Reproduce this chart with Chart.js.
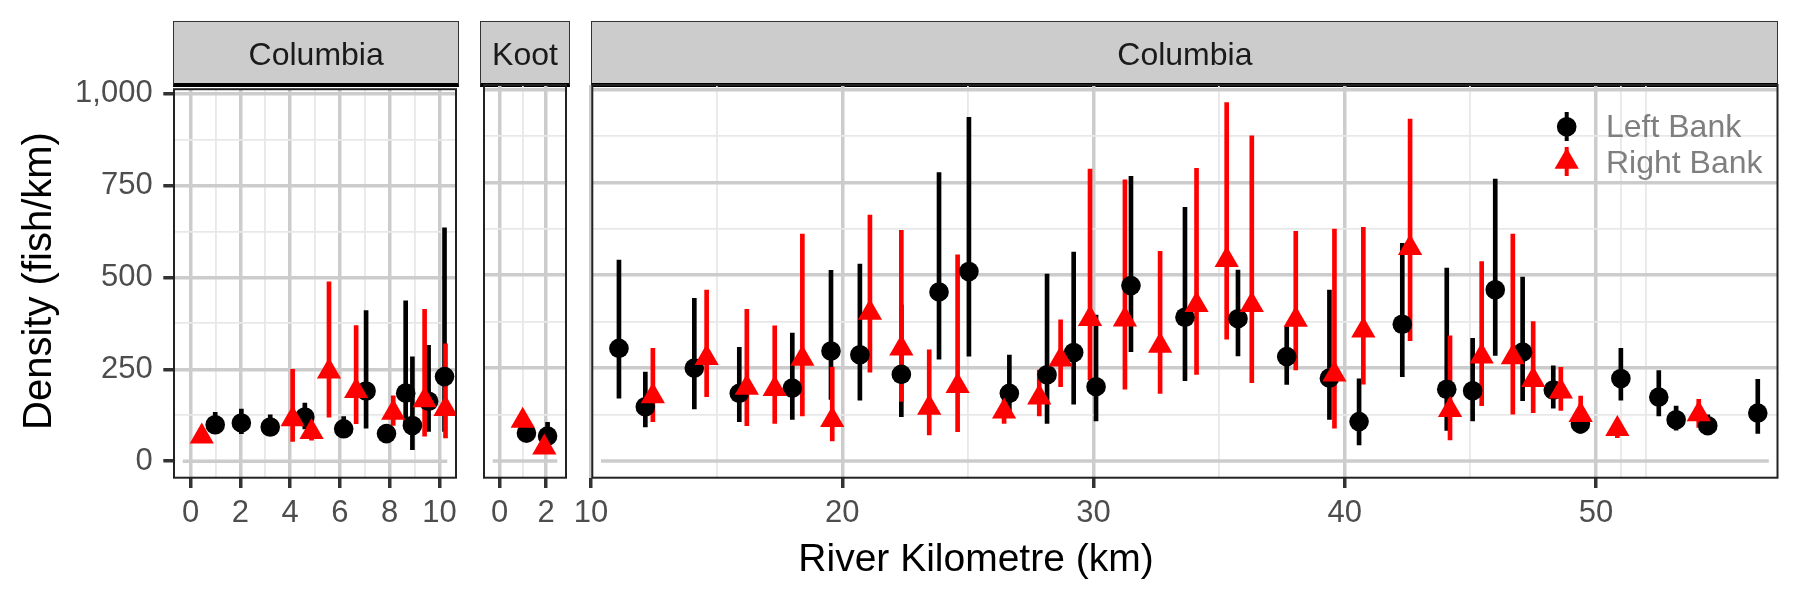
<!DOCTYPE html>
<html>
<head>
<meta charset="utf-8">
<script src="https://cdn.jsdelivr.net/npm/chart.js@4.4.1/dist/chart.umd.min.js"></script>
<style>
  body { margin: 0; background: #fff; }
  #wrap { position: relative; width: 1800px; height: 600px; overflow: hidden; background: #fff;
          font-family: 'Liberation Sans', Arial, Helvetica, sans-serif; }
  canvas { position: absolute; }
  .strip { position: absolute; box-sizing: border-box; background: #cccccc;
           border: 1.5px solid #333; border-bottom: 4px solid #000; top: 21px; height: 66px; }
  .stxt { position: absolute; text-align: center; font-size: 32px; line-height: 32px; color: #1a1a1a;
          white-space: nowrap; top: 38px; }
  .leg { position: absolute; left: 1606px; font-size: 32px; line-height: 32px; color: #7f7f7f; white-space: nowrap; }
  #ytitle { position: absolute; width: 420px; left: -173px; top: 261px; height: 40px; font-size: 40px; line-height: 40px;
            text-align: center; transform: rotate(-90deg); white-space: nowrap; color: #000; }
  #xtitle { position: absolute; width: 600px; left: 676px; top: 537.6px; font-size: 39px; line-height: 39px;
            text-align: center; white-space: nowrap; color: #000; }
</style>
</head>
<body>
<div id="wrap">
  <div class="strip" style="left:173px;width:286.3px;"></div>
  <div class="strip" style="left:479.7px;width:90.6px;"></div>
  <div class="strip" style="left:591.3px;width:1187.2px;"></div>
  <canvas id="cA" width="470" height="500" style="left:0px;top:60px;"></canvas>
  <canvas id="cB" width="110" height="500" style="left:470px;top:60px;"></canvas>
  <canvas id="cC" width="1233" height="500" style="left:567px;top:60px;"></canvas>
  <div class="stxt" style="left:174px;width:284.3px;">Columbia</div>
  <div class="stxt" style="left:480.7px;width:88.6px;">Koot</div>
  <div class="stxt" style="left:592.3px;width:1185.2px;">Columbia</div>
  <div class="leg" style="top:110.2px;">Left Bank</div>
  <div class="leg" style="top:145.6px;">Right Bank</div>
  <div id="ytitle">Density (fish/km)</div>
  <div id="xtitle">River Kilometre (km)</div>
</div>
<script>
// ---------------- DATA ----------------
// Columbia (upper facet, km 0-10)
const colUpLeftKm   = [0.99, 2.04, 3.20, 4.59, 6.15, 7.05, 7.87, 8.64, 8.91, 9.56, 10.20];
const colUpLeftDens = [99, 104, 93, 120, 88, 191, 75, 185, 97, 163, 230];
const colUpLeftLo   = [75, 75, 70, 88, 66, 90, 55, 100, 31, 81, 81];
const colUpLeftHi   = [133, 142, 126, 158, 121, 410, 100, 436, 284, 315, 635];
const colUpRightKm   = [0.45, 4.10, 4.86, 5.56, 6.65, 8.14, 9.40, 10.24];
const colUpRightDens = [67, 114, 79, 244, 191, 132, 166, 142];
const colUpRightLo   = [58, 54, 57, 120, 102, 97, 68, 63];
const colUpRightHi   = [78, 250, 105, 488, 369, 178, 413, 319];

// Kootenay
const kootLeftKm   = [1.15, 2.06];
const kootLeftDens = [75, 67];
const kootLeftLo   = [62, 48];
const kootLeftHi   = [90, 104];
const kootRightKm   = [0.99, 1.92];
const kootRightDens = [108, 36];
const kootRightLo   = [100, 30];
const kootRightHi   = [116, 42];

// Columbia (lower facet, km 10-57)
const colLowLeftKm   = [11.11, 12.16, 14.11, 15.90, 18.01, 19.55, 20.70, 22.35, 23.85, 25.04, 26.65, 28.15, 29.21, 30.10, 31.49, 33.64, 35.75, 37.69, 39.39, 40.57, 42.29, 44.06, 45.09, 45.99, 47.08, 48.30, 49.38, 50.99, 52.50, 53.19, 54.45, 56.44];
const colLowLeftDens = [303, 146, 250, 182, 196, 296, 286, 233, 455, 510, 182, 232, 292, 200, 472, 387, 383, 281, 223, 106, 368, 193, 189, 461, 293, 191, 100, 222, 172, 111, 95, 129];
const colLowLeftLo   = [169, 92, 140, 106, 112, 166, 164, 119, 274, 282, 128, 101, 153, 108, 294, 216, 283, 206, 112, 43, 227, 82, 108, 284, 162, 142, 75, 164, 121, 83, 75, 74];
const colLowLeftHi   = [541, 239, 438, 306, 344, 513, 530, 420, 776, 925, 285, 503, 562, 393, 766, 683, 514, 362, 460, 221, 586, 519, 330, 759, 495, 256, 128, 303, 243, 148, 124, 220];
const colLowRightKm   = [12.46, 14.60, 16.20, 17.31, 18.41, 19.60, 21.10, 22.35, 23.46, 24.59, 26.44, 27.84, 28.69, 29.86, 31.25, 32.65, 34.10, 35.30, 36.30, 38.05, 39.59, 40.74, 42.60, 44.19, 45.45, 46.69, 47.50, 48.60, 49.39, 50.85, 54.09];
const colLowRightDens = [174, 277, 197, 194, 275, 110, 399, 303, 143, 202, 133, 171, 273, 382, 381, 310, 420, 541, 420, 380, 233, 351, 573, 137, 281, 279, 218, 187, 124, 86, 126];
const colLowRightLo   = [106, 173, 95, 101, 121, 54, 239, 160, 70, 79, 101, 121, 200, 218, 193, 182, 233, 328, 211, 245, 88, 207, 324, 57, 149, 126, 130, 136, 106, 63, 90];
const colLowRightHi   = [303, 460, 408, 364, 611, 252, 662, 621, 299, 555, 164, 245, 380, 786, 757, 564, 788, 965, 875, 618, 624, 629, 920, 337, 537, 611, 375, 252, 175, 101, 166];

// Ticks
const yTickValues  = [0, 125, 250, 375, 500, 625, 750, 875, 1000];
const yMajorValues = [0, 250, 500, 750, 1000];
const xTicksUp   = [0, 1, 2, 3, 4, 5, 6, 7, 8, 9, 10];
const xMajorUp   = [0, 2, 4, 6, 8, 10];
const xTicksKoot = [0, 1, 2];
const xMajorKoot = [0, 2];
const xTicksLow  = [10, 15, 20, 25, 30, 35, 40, 45, 50, 51, 52];
const xMajorLow  = [10, 20, 30, 40, 50];

// ---------------- CHARTS ----------------
Chart.defaults.font.family = "'Liberation Sans', Arial, Helvetica, sans-serif";

const MAJOR_C = '#cccccc', MINOR_C = '#e8e8e8';

const panelDeco = {
  id: 'panelDeco',
  beforeDatasetsDraw(chart) {
    const { ctx, chartArea: a, scales } = chart;
    const py = scales.y.getPixelForValue(0);
    ctx.save();
    ctx.strokeStyle = MAJOR_C; ctx.lineWidth = 3.5;
    ctx.beginPath(); ctx.moveTo(a.left + 8.7, py); ctx.lineTo(a.right - 8.7, py); ctx.stroke();
    ctx.restore();
  },
  afterDraw(chart) {
    const { ctx, chartArea: a } = chart;
    ctx.save();
    ctx.strokeStyle = '#222'; ctx.lineWidth = 2;
    ctx.strokeRect(a.left, a.top, a.right - a.left, a.bottom - a.top);
    ctx.restore();
  }
};

const legendDeco = {
  id: 'legendDeco',
  afterDraw(chart) {
    const { ctx, chartArea: a } = chart;
    const gx = a.right - 210.8;
    ctx.save();
    ctx.fillStyle = '#000000';
    ctx.fillRect(gx - 2, a.top + 27, 4, 29);
    Chart.helpers.drawPoint(ctx, { pointStyle: 'circle', radius: 9.8, borderWidth: 0, rotation: 0 }, gx, a.top + 41.7);
    ctx.fillStyle = '#ff0000';
    ctx.fillRect(gx - 2, a.top + 62, 4, 29);
    Chart.helpers.drawPoint(ctx, { pointStyle: 'triangle', radius: 14, borderWidth: 0, rotation: 0 }, gx, a.top + 76.7);
    ctx.restore();
  }
};

function makePanel(id, cfg) {
  const L = cfg.left, R = cfg.right;
  const datasets = [
    { type: 'bar', label: 'Left Bank', order: 4, grouped: false, barThickness: 4, borderWidth: 0,
      backgroundColor: '#000000',
      data: L.km.map((k, i) => ({ x: k, y: [L.lo[i], L.hi[i]] })) },
    { type: 'bar', label: 'Right Bank', order: 3, grouped: false, barThickness: 4, borderWidth: 0,
      backgroundColor: '#ff0000',
      data: R.km.map((k, i) => ({ x: k, y: [R.lo[i], R.hi[i]] })) },
    { type: 'scatter', label: 'Left Bank', order: 2, pointStyle: 'circle', pointRadius: 9.8,
      pointBorderWidth: 0, backgroundColor: '#000000', borderColor: '#000000',
      data: L.km.map((k, i) => ({ x: k, y: L.dens[i] })) },
    { type: 'scatter', label: 'Right Bank', order: 1, pointStyle: 'triangle', pointRadius: 14,
      pointBorderWidth: 0, backgroundColor: '#ff0000', borderColor: '#ff0000',
      data: R.km.map((k, i) => ({ x: k, y: R.dens[i] })) }
  ];
  return new Chart(document.getElementById(id), {
    type: 'scatter',
    data: { datasets },
    options: {
      responsive: false, devicePixelRatio: 1, animation: false, events: [],
      layout: { padding: cfg.pad },
      plugins: { legend: { display: false }, tooltip: { enabled: false } },
      scales: {
        x: {
          type: 'linear', min: cfg.xMin, max: cfg.xMax, bounds: 'data', offset: false,
          afterBuildTicks: s => { s.ticks = cfg.xTicks.map(v => ({ value: v })); },
          afterFit: s => { s.height = 82.3; },
          border: { display: false },
          ticks: { autoSkip: false, maxRotation: 0, minRotation: 0, padding: 6.5, color: '#4d4d4d',
                   font: { size: 31 }, callback: v => cfg.xMajor.includes(v) ? String(v) : '' },
          grid: {
            offset: false, drawTicks: true, tickLength: 10.3, tickWidth: 3.5,
            color: c => (c.tick && cfg.xMajor.includes(c.tick.value)) ? MAJOR_C : MINOR_C,
            lineWidth: c => (c.tick && cfg.xMajor.includes(c.tick.value)) ? 3.5 : 1.8,
            tickColor: c => (c.tick && cfg.xMajor.includes(c.tick.value)) ? '#333333' : 'rgba(0,0,0,0)'
          }
        },
        y: {
          type: 'linear', min: -45, max: 1012, bounds: 'data',
          afterBuildTicks: s => { s.ticks = yTickValues.map(v => ({ value: v })); },
          afterFit: s => { s.width = cfg.yWidth; },
          border: { display: false },
          ticks: { display: cfg.showY, padding: 10.6, color: '#4d4d4d', font: { size: 31 },
                   callback: v => yMajorValues.includes(v) ? v.toLocaleString('en-US') : '' },
          grid: {
            drawTicks: cfg.showY, tickLength: 10.7, tickWidth: 3.5,
            color: c => {
              if (!c.tick) return MINOR_C;
              if (c.tick.value === 0) return 'rgba(0,0,0,0)';
              return yMajorValues.includes(c.tick.value) ? MAJOR_C : MINOR_C;
            },
            lineWidth: c => (c.tick && yMajorValues.includes(c.tick.value)) ? 3.5 : 1.8,
            tickColor: c => (c.tick && yMajorValues.includes(c.tick.value)) ? '#333333' : 'rgba(0,0,0,0)'
          }
        }
      }
    },
    plugins: cfg.legend ? [panelDeco, legendDeco] : [panelDeco]
  });
}

makePanel('cA', {
  xMin: -0.665, xMax: 10.661, xTicks: xTicksUp, xMajor: xMajorUp,
  pad: { top: 25, left: 0, right: 11.7, bottom: 0 }, yWidth: 174, showY: true,
  left:  { km: colUpLeftKm,  dens: colUpLeftDens,  lo: colUpLeftLo,  hi: colUpLeftHi },
  right: { km: colUpRightKm, dens: colUpRightDens, lo: colUpRightLo, hi: colUpRightHi }
});
makePanel('cB', {
  xMin: -0.677, xMax: 2.853, xTicks: xTicksKoot, xMajor: xMajorKoot,
  pad: { top: 25, left: 10.7, right: 10.7, bottom: 0 }, yWidth: 0, showY: false,
  left:  { km: kootLeftKm,  dens: kootLeftDens,  lo: kootLeftLo,  hi: kootLeftHi },
  right: { km: kootRightKm, dens: kootRightDens, lo: kootRightLo, hi: kootRightHi }
});
makePanel('cC', {
  xMin: 10.049, xMax: 57.225, xTicks: xTicksLow, xMajor: xMajorLow,
  pad: { top: 25, left: 25.3, right: 22.5, bottom: 0 }, yWidth: 0, showY: false, legend: true,
  left:  { km: colLowLeftKm,  dens: colLowLeftDens,  lo: colLowLeftLo,  hi: colLowLeftHi },
  right: { km: colLowRightKm, dens: colLowRightDens, lo: colLowRightLo, hi: colLowRightHi }
});
</script>
</body>
</html>
